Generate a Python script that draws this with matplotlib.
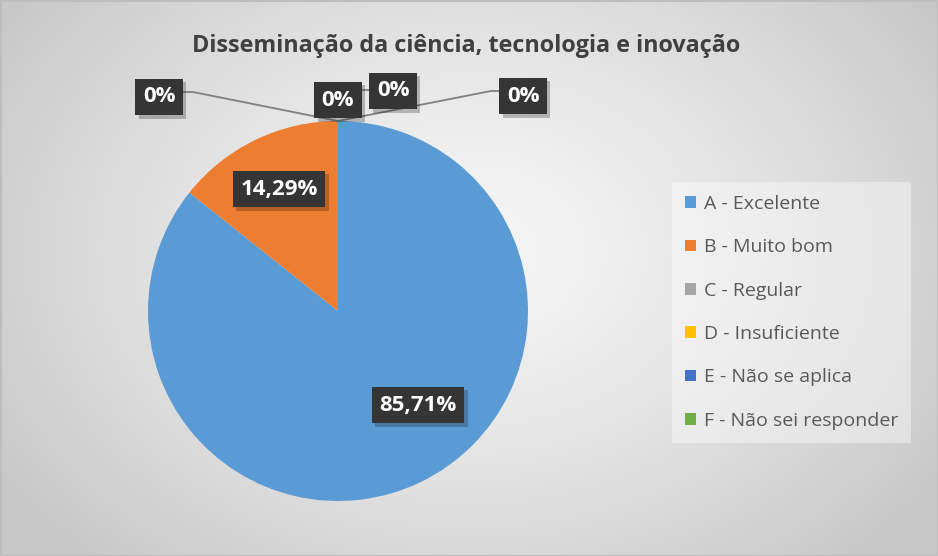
#!/usr/bin/env python3
# -*- coding: utf-8 -*-

import numpy as np
import matplotlib
matplotlib.use("Agg")
import matplotlib.pyplot as plt
import matplotlib.patheffects as pe

plt.rcParams["font.family"] = ["Open Sans", "DejaVu Sans"]

# =========================
# Data
# =========================
categories = [
    "A - Excelente",
    "B - Muito bom",
    "C - Regular",
    "D - Insuficiente",
    "E - Não se aplica",
    "F - Não sei responder",
]
values = [85.71, 14.29, 0.0, 0.0, 0.0, 0.0]
value_labels = ["85,71%", "14,29%", "0%", "0%", "0%", "0%"]
colors = ["#5B9BD5", "#ED7D31", "#A5A5A5", "#FFC000", "#4472C4", "#70AD47"]
title = "Disseminação da ciência, tecnologia e inovação"

# layout (pixels, y from top)
W, H = 938, 556
pie_center = (338, 311)
pie_radius = 190
label_pos = [(418, 405), (279, 189), (159, 97), (338, 100), (393, 91), (523, 96)]


def fy(y):
    return H - y


fig = plt.figure(figsize=(W / 100, H / 100), dpi=100)

# =========================
# Background radial gradient
# =========================
bg = fig.add_axes([0, 0, 1, 1])
bg.set_axis_off()
yy, xx = np.mgrid[0:H, 0:W]
d = np.sqrt(((xx - 470) / 560.0) ** 2 + ((yy - 250) / 420.0) ** 2)
d = np.clip(d, 0, 1)
shade = 0.965 - 0.18 * d ** 1.3
bg.imshow(np.dstack([shade] * 3), extent=(0, W, H, 0), aspect="auto")
bg.set_xlim(0, W)
bg.set_ylim(H, 0)
bg.add_patch(plt.Rectangle((0.5, 0.5), W - 1, H - 1, fill=False,
                           edgecolor="#bdbdbd", lw=1.5))

# =========================
# Pie
# =========================
ax = fig.add_axes([0, 0, 1, 1])
ax.patch.set_alpha(0)
wedges, _ = ax.pie(
    values,
    colors=colors,
    startangle=90,
    counterclock=False,
    center=(pie_center[0], fy(pie_center[1])),
    radius=pie_radius,
    wedgeprops=dict(linewidth=0),
)
ax.set_xlim(0, W)
ax.set_ylim(0, H)
ax.set_aspect("auto")
ax.set_axis_off()

# leader lines for the zero slices (all meet at the top of the pie)
top = (pie_center[0], fy(pie_center[1] - pie_radius))
ax.plot([184, 193, top[0]], [fy(92), fy(92), top[1]], color="#7f7f7f", lw=1.3, zorder=3)
ax.plot([501, 491, top[0]], [fy(91), fy(91), top[1]], color="#7f7f7f", lw=1.3, zorder=3)
ax.plot([361, 371], [fy(90), fy(90)], color="#7f7f7f", lw=1.3, zorder=3)

# data labels
for txt, (px, py) in zip(value_labels, label_pos):
    t = ax.text(px, fy(py), txt, ha="center", va="center", color="white",
                fontsize=16, fontweight="bold", zorder=5,
                bbox=dict(boxstyle="square,pad=0.34", facecolor="#353535",
                          edgecolor="none"))
    t.get_bbox_patch().set_path_effects(
        [pe.SimplePatchShadow(offset=(2.5, -2.5), alpha=0.25), pe.Normal()])

# =========================
# Title + legend
# =========================
fig.text(466 / W, 1 - 46 / H, title, ha="center", va="center",
         fontsize=16.8, fontweight="bold", color="#404040")

leg = ax.legend(
    wedges, categories,
    loc="upper left",
    bbox_to_anchor=(672 / W, 1 - 182 / H),
    bbox_transform=fig.transFigure,
    frameon=True, fancybox=False,
    fontsize=14, labelcolor="#595959",
    handlelength=0.55, handleheight=0.55, handletextpad=0.4,
    labelspacing=1.3, borderpad=0.68, borderaxespad=0,
)
leg.get_frame().set_facecolor("white")
leg.get_frame().set_alpha(0.4)
leg.get_frame().set_linewidth(0)

fig.savefig("out.png", dpi=100)
print("[OK] saved: out.png")
